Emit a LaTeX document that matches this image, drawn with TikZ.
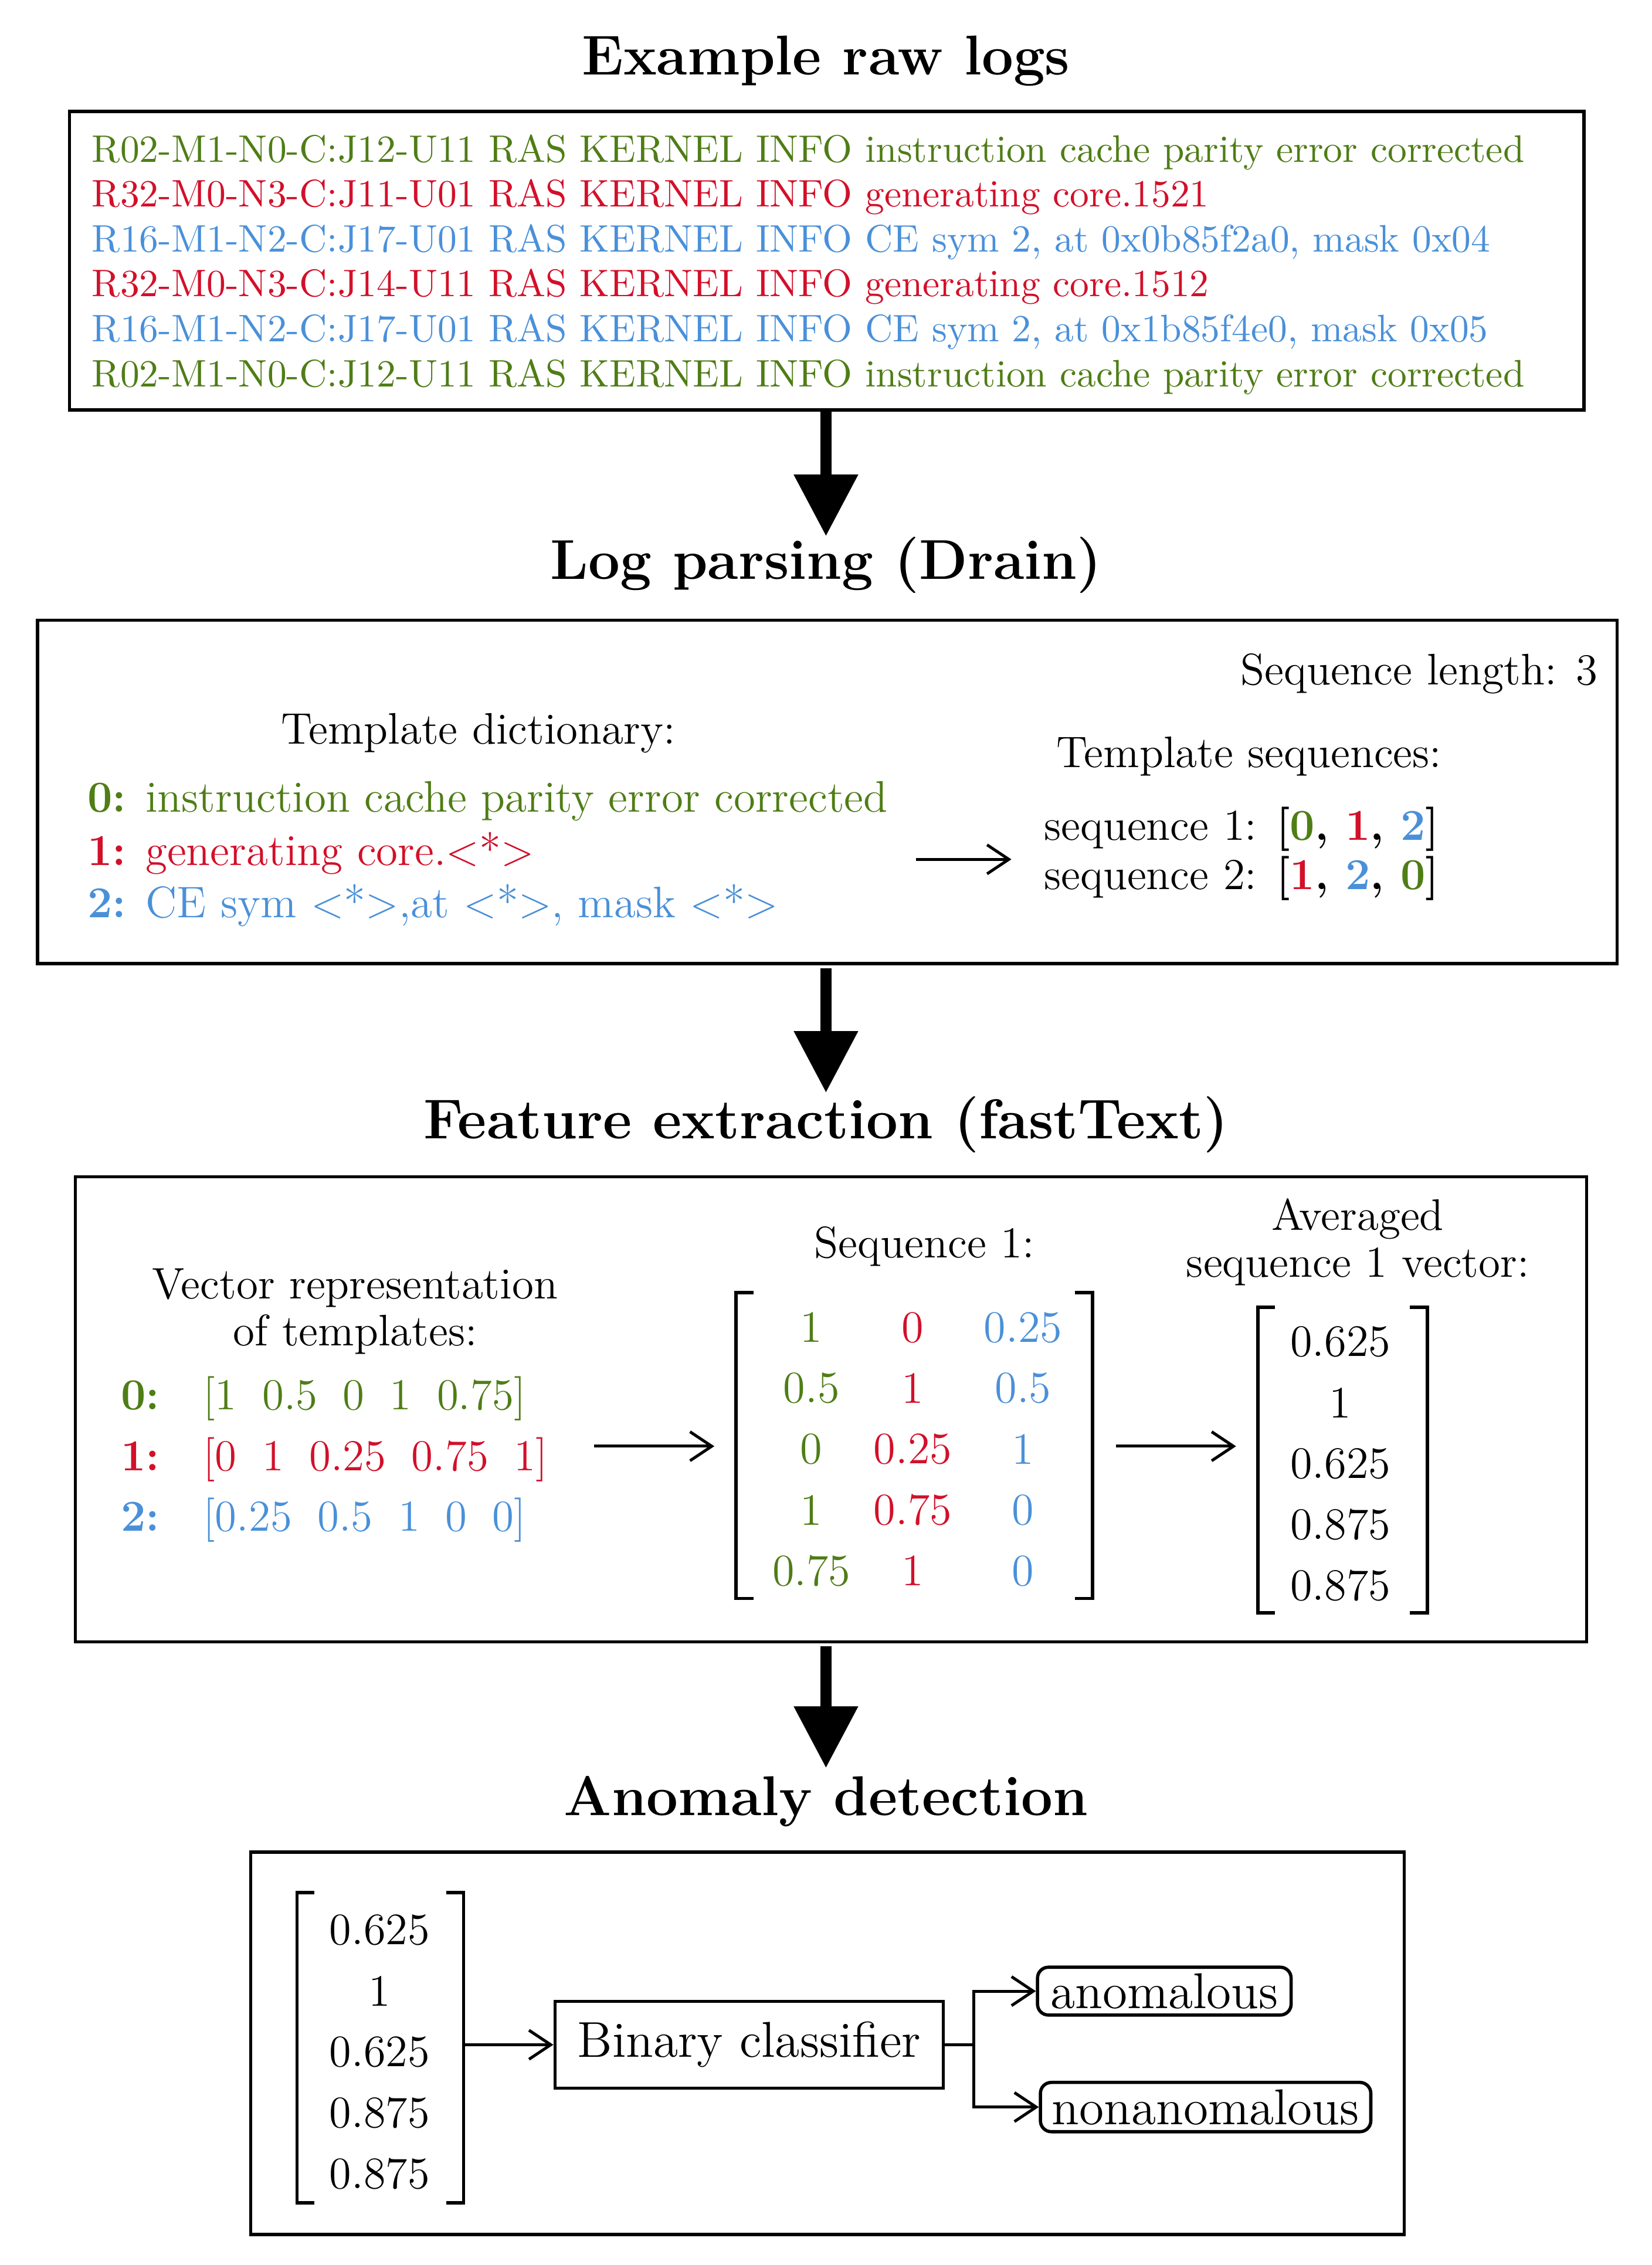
\documentclass[tikz,border=0pt]{standalone}
\usetikzlibrary{arrows.meta}
\definecolor{lg}{RGB}{79,125,22}
\definecolor{lr}{RGB}{210,16,42}
\definecolor{lb}{RGB}{74,144,217}
\begin{document}
\begin{tikzpicture}[x=0.4pt,y=-0.4pt,
 box/.style={draw,line width=0.9pt},
 ttl/.style={font=\fontsize{15.5}{17}\selectfont\bfseries},
 big/.style={line width=3pt,-{Triangle[length=17pt,width=17pt]}},
 thin/.style={line width=0.8pt,-{Straight Barb[length=6pt,width=8pt]}},
 lg/.style={anchor=west,inner sep=0pt,font=\fontsize{10.6}{12}\selectfont},
 tx/.style={inner sep=0pt,font=\fontsize{12.2}{14}\selectfont},
 num/.style={inner sep=0pt,font=\fontsize{12.4}{14}\selectfont},
 br/.style={line width=0.9pt}]
\useasboundingbox (0,0) rectangle (1140,1563);
% titles
\node[ttl] (t1) at (570,42) {Example raw logs};
\node[ttl] (t2) at (570,390) {Log parsing (Drain)};
\node[ttl] (t3) at (570,776) {Feature extraction (fastText)};
\node[ttl] (t4) at (570,1243) {Anomaly detection};
% box 1
\draw[box] (48,77) rectangle (1093,283);
\node[lg,text=lg] (l1) at (63,105) {R02-M1-N0-C:J12-U11 RAS KERNEL INFO instruction cache parity error corrected};
\node[lg,text=lr] (l2) at (63,136) {R32-M0-N3-C:J11-U01 RAS KERNEL INFO generating core.1521};
\node[lg,text=lb] (l3) at (63,167) {R16-M1-N2-C:J17-U01 RAS KERNEL INFO CE sym 2, at 0x0b85f2a0, mask 0x04};
\node[lg,text=lr] (l4) at (63,198) {R32-M0-N3-C:J14-U11 RAS KERNEL INFO generating core.1512};
\node[lg,text=lb] (l5) at (63,229) {R16-M1-N2-C:J17-U01 RAS KERNEL INFO CE sym 2, at 0x1b85f4e0, mask 0x05};
\node[lg,text=lg] (l6) at (63,260) {R02-M1-N0-C:J12-U11 RAS KERNEL INFO instruction cache parity error corrected};
\coordinate (a1s) at (570,283); \coordinate (a1e) at (570,370);
\draw[big] (a1s) -- (a1e);
% box 2
\draw[box] (26,428) rectangle (1116,665);
\node[tx,anchor=east] (sl) at (1103,465) {Sequence length: 3};
\node[tx] (td) at (330,506) {Template dictionary:};
\node[tx,anchor=west] (d0) at (60,553) {\textcolor{lg}{\textbf{0:} instruction cache parity error corrected}};
\node[tx,anchor=west] (d1) at (60,589) {\textcolor{lr}{\textbf{1:} generating core.$<$*$>$}};
\node[tx,anchor=west] (d2) at (60,625) {\textcolor{lb}{\textbf{2:} CE sym $<$*$>$,at $<$*$>$, mask $<$*$>$}};
\node[tx] (ts) at (862,522) {Template sequences:};
\node[tx,anchor=west] (s1) at (720,572) {sequence 1: \textbf{[\textcolor{lg}{0}, \textcolor{lr}{1}, \textcolor{lb}{2}]}};
\node[tx,anchor=west] (s2) at (720,606) {sequence 2: \textbf{[\textcolor{lr}{1}, \textcolor{lb}{2}, \textcolor{lg}{0}]}};
\coordinate (p1) at (632,593); \coordinate (p2) at (698,593);
\draw[thin] (p1) -- (p2);
\coordinate (a2s) at (570,668); \coordinate (a2e) at (570,754);
\draw[big] (a2s) -- (a2e);
% box 3
\draw[box] (52,812) rectangle (1095,1133);
\node[tx,align=center] (vr) at (245,905) {Vector representation\\[-1pt]of templates:};
\node[tx,text=lg,anchor=west] (v0) at (83,965) {\textbf{0:}\hspace{12pt}[1\hspace{7pt}0.5\hspace{7pt}0\hspace{7pt}1\hspace{7pt}0.75]};
\node[tx,text=lr,anchor=west] (v1) at (83,1007) {\textbf{1:}\hspace{12pt}[0\hspace{7pt}1\hspace{7pt}0.25\hspace{7pt}0.75\hspace{7pt}1]};
\node[tx,text=lb,anchor=west] (v2) at (83,1049) {\textbf{2:}\hspace{12pt}[0.25\hspace{7pt}0.5\hspace{7pt}1\hspace{7pt}0\hspace{7pt}0]};
\coordinate (q1) at (410,998); \coordinate (q2) at (493,998);
\draw[thin] (q1) -- (q2);
\node[tx] (sq) at (638,860) {Sequence 1:};
\draw[br] (520,892) -- (508,892) -- (508,1103) -- (520,1103);
\draw[br] (742,892) -- (754,892) -- (754,1103) -- (742,1103);
\foreach \v [count=\i] in {1,0.5,0,1,0.75}
  \node[num,text=lg] (ma\i) at (560,874+42*\i) {\v};
\foreach \v [count=\i] in {0,1,0.25,0.75,1}
  \node[num,text=lr] (mb\i) at (630,874+42*\i) {\v};
\foreach \v [count=\i] in {0.25,0.5,1,0,0}
  \node[num,text=lb] (mc\i) at (706,874+42*\i) {\v};
\coordinate (r1) at (770,998); \coordinate (r2) at (853,998);
\draw[thin] (r1) -- (r2);
\node[tx,align=center] (av) at (937,857) {Averaged\\[-1pt]sequence 1 vector:};
\draw[br] (880,902) -- (868,902) -- (868,1113) -- (880,1113);
\draw[br] (973,902) -- (985,902) -- (985,1113) -- (973,1113);
\foreach \v [count=\i] in {0.625,1,0.625,0.875,0.875}
  \node[num] (av\i) at (925,884+42*\i) {\v};
\coordinate (a3s) at (570,1136); \coordinate (a3e) at (570,1220);
\draw[big] (a3s) -- (a3e);
% box 4
\draw[box] (173,1278) rectangle (969,1542);
\draw[br] (217,1306) -- (205,1306) -- (205,1520) -- (217,1520);
\draw[br] (308,1306) -- (320,1306) -- (320,1520) -- (308,1520);
\foreach \v [count=\i] in {0.625,1,0.625,0.875,0.875}
  \node[num] (w\i) at (262,1290+42*\i) {\v};
\coordinate (vin) at (320,1411);
\node[draw,line width=0.9pt,minimum width=268*0.4pt,minimum height=60*0.4pt,inner sep=0pt,font=\fontsize{13.9}{15}\selectfont] (bc) at (517,1411) {Binary classifier};
\draw[thin] (vin) -- (bc.west);
\node[draw,line width=0.9pt,rounded corners=3pt,minimum width=175*0.4pt,minimum height=33*0.4pt,inner sep=0pt,font=\fontsize{13.9}{15}\selectfont] (an) at (803.5,1374) {anomalous};
\node[draw,line width=0.9pt,rounded corners=3pt,minimum width=228*0.4pt,minimum height=34*0.4pt,inner sep=0pt,font=\fontsize{13.9}{15}\selectfont] (na) at (832,1454) {nonanomalous};
\coordinate (j) at (672,1411);
\draw[line width=0.8pt] (bc.east) -- (j);
\draw[thin] (j) |- (an.west);
\draw[thin] (j) |- (na.west);
\end{tikzpicture}
\end{document}
